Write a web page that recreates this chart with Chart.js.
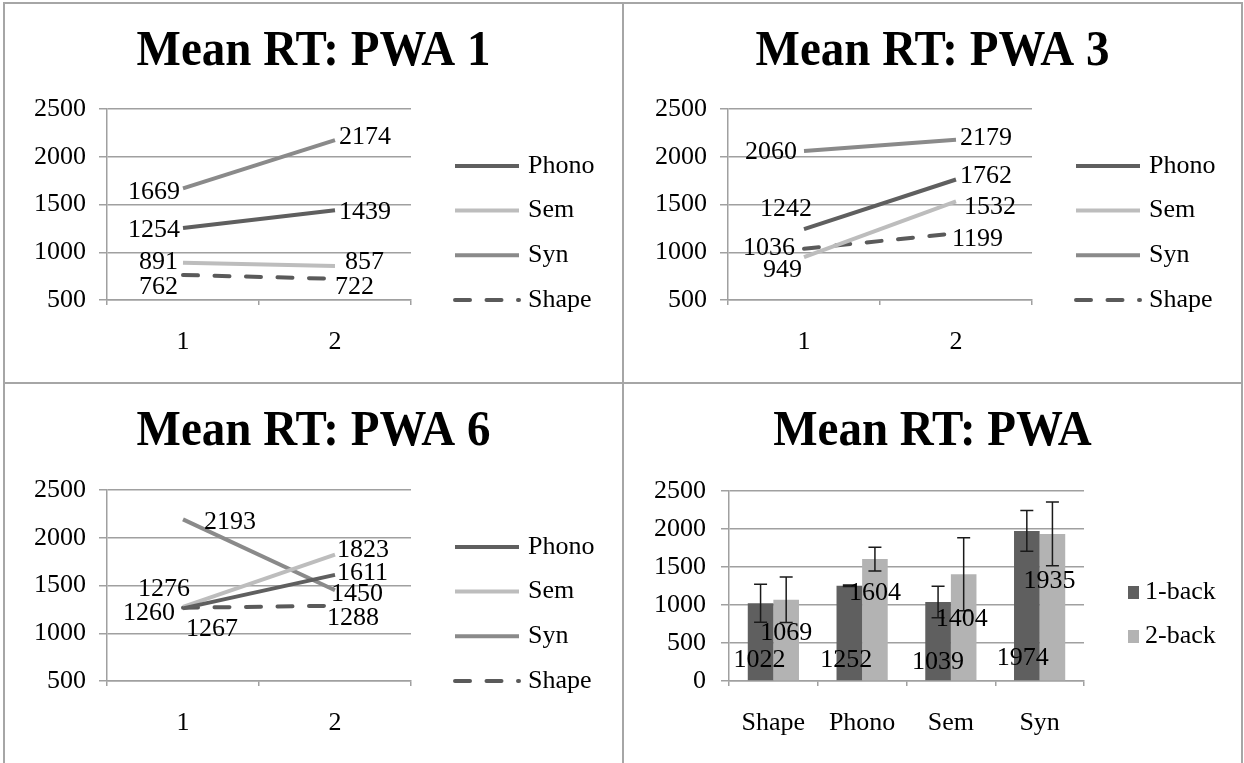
<!DOCTYPE html>
<html>
<head>
<meta charset="utf-8">
<title>Mean RT</title>
<script src="https://cdn.jsdelivr.net/npm/chart.js@4.4.1/dist/chart.umd.min.js"></script>
<style>
  html, body { margin: 0; padding: 0; background: #fff; }
  #page { position: relative; width: 1244px; height: 763px; overflow: hidden; }
  .rule { position: absolute; background: #a6a6a6; }
  .panel { position: absolute; }
</style>
</head>
<body>
<div id="page">
  <div class="rule" style="left:3px;top:2px;width:1240px;height:2px"></div>
  <div class="rule" style="left:3px;top:2px;width:2px;height:761px"></div>
  <div class="rule" style="left:1241px;top:2px;width:2px;height:761px"></div>
  <div class="rule" style="left:622px;top:2px;width:2px;height:761px"></div>
  <div class="rule" style="left:3px;top:382px;width:1240px;height:2px"></div>
  <div class="panel" style="left:5px;top:4px;width:617px;height:378px"><canvas id="pwa1"></canvas></div>
  <div class="panel" style="left:624px;top:4px;width:617px;height:378px"><canvas id="pwa3"></canvas></div>
  <div class="panel" style="left:5px;top:384px;width:617px;height:379px"><canvas id="pwa6"></canvas></div>
  <div class="panel" style="left:624px;top:384px;width:617px;height:379px"><canvas id="pwaAll"></canvas></div>
</div>
<script>
// --- DATA ---
const TRIALS = ['1', '2'];
const CONDITIONS = ['Phono', 'Sem', 'Syn', 'Shape'];
const LINE_TICKS = [500, 1000, 1500, 2000, 2500];
const BAR_TICKS = [0, 500, 1000, 1500, 2000, 2500];

const pwa1Phono = [1254, 1439];
const pwa1Sem = [891, 857];
const pwa1Syn = [1669, 2174];
const pwa1Shape = [762, 722];

const pwa3Phono = [1242, 1762];
const pwa3Sem = [949, 1532];
const pwa3Syn = [2060, 2179];
const pwa3Shape = [1036, 1199];

const pwa6Phono = [1260, 1611];
const pwa6Sem = [1276, 1823];
const pwa6Syn = [2193, 1450];
const pwa6Shape = [1267, 1288];

const BAR_CATEGORIES = ['Shape', 'Phono', 'Sem', 'Syn'];
const BAR_SERIES = ['1-back', '2-back'];
const oneBack = [1022, 1252, 1039, 1974];
const twoBack = [1069, 1604, 1404, 1935];
const oneBackErr = [250, 10, 208, 268];
const twoBackErr = [300, 155, 480, 420];

// --- STYLE ---
const FONT = '"Liberation Serif", "Times New Roman", serif';
const GRID = '#a0a0a0';
const COLORS = {
    Phono: '#5f5f5f',
    Sem: '#bdbdbd',
    Syn: '#8a8a8a',
    Shape: '#5a5a5a',
    oneBack: '#5f5f5f',
    twoBack: '#b3b3b3',
};

// label placement per point: [align, dx, dy] (align r = text ends at point, l = starts at point)
const pwa1Spots = [
    [['r', -3, 2], ['l', 4, 2]],
    [['r', -5, 0], ['l', 10, -4]],
    [['r', -3, 4], ['l', 4, -3]],
    [['r', -5, 12], ['l', 0, 8]],
];
const pwa3Spots = [
    [['r', 8, -20], ['l', 4, -3]],
    [['r', -2, 13], ['l', 8, 6]],
    [['r', -7, 1], ['l', 4, -1]],
    [['r', -9, -1], ['l', -4, 6]],
];
const pwa6Spots = [
    [['r', -8, 5], ['l', 2, -2]],
    [['r', 7, -18], ['l', 2, -4]],
    [['l', 21, 3], ['l', -4, 4]],
    [['l', 3, 21], ['l', -8, 12]],
];
// bars: [align, dx, dy, anchor]
const barSpots = [
    [['c', -1, -20, 'base'], ['c', -3, -20, 'base'], ['c', 0, -18, 'base'], ['c', -4, -22, 'base']],
    [['c', 0, 33, 'top'], ['c', 0, 34, 'top'], ['c', -2, 45, 'top'], ['c', -3, 47, 'top']],
];

Chart.defaults.font.family = FONT;
Chart.defaults.color = '#000';
Chart.defaults.animation = false;

// --- PLUGINS ---
// title centred over the whole panel (the built-in one centres over the padded box)
const panelTitle = {
    id: 'panelTitle',
    afterDraw(chart, args, opts) {
        const ctx = chart.ctx;
        ctx.save();
        ctx.translate(chart.width / 2, opts.y);
        ctx.scale(1, 1.08);
        ctx.font = 'bold 47px ' + FONT;
        ctx.fillStyle = '#000';
        ctx.textAlign = 'center';
        ctx.textBaseline = 'middle';
        ctx.fillText(opts.text, 0, 0);
        ctx.restore();
    }
};

const valueLabels = {
    id: 'valueLabels',
    afterDatasetsDraw(chart, args, opts) {
        if (!opts.spots) return;
        const ctx = chart.ctx;
        ctx.save();
        ctx.font = '26px ' + FONT;
        ctx.fillStyle = '#000';
        ctx.textBaseline = 'middle';
        chart.data.datasets.forEach((ds, i) => {
            chart.getDatasetMeta(i).data.forEach((el, j) => {
                const [align, dx, dy, anchor] = opts.spots[i][j];
                ctx.textAlign = align === 'r' ? 'right' : align === 'l' ? 'left' : 'center';
                const y0 = anchor === 'base' ? el.base : el.y;
                ctx.fillText(String(ds.data[j]), el.x + dx, y0 + dy);
            });
        });
        ctx.restore();
    }
};

const sideLegend = {
    id: 'sideLegend',
    afterDraw(chart, args, opts) {
        if (!opts.display) return;
        const { ctx, chartArea } = chart;
        const sets = chart.data.datasets;
        const x0 = chartArea.right + opts.offsetX;
        ctx.save();
        ctx.font = '26px ' + FONT;
        ctx.fillStyle = '#000';
        ctx.textBaseline = 'middle';
        ctx.textAlign = 'left';
        sets.forEach((ds, k) => {
            const y = chartArea.bottom - opts.bottomGap - (sets.length - 1 - k) * opts.rowGap;
            if (opts.kind === 'line') {
                ctx.save();
                ctx.strokeStyle = ds.borderColor;
                ctx.lineWidth = 4;
                ctx.lineCap = ds.borderDash ? 'round' : 'butt';
                ctx.setLineDash(ds.borderDash || []);
                ctx.beginPath();
                ctx.moveTo(x0 + 2, y);
                ctx.lineTo(x0 + 66, y);
                ctx.stroke();
                ctx.restore();
                ctx.fillText(ds.label, x0 + 75, y);
            } else {
                ctx.fillStyle = ds.backgroundColor;
                ctx.fillRect(x0, y - 6, 11, 13);
                ctx.fillStyle = '#000';
                ctx.fillText(ds.label, x0 + 17, y);
            }
        });
        ctx.restore();
    }
};

const errorBars = {
    id: 'errorBars',
    afterDatasetsDraw(chart, args, opts) {
        if (!opts.errors) return;
        const { ctx } = chart;
        const yScale = chart.scales.y;
        ctx.save();
        ctx.strokeStyle = '#1a1a1a';
        ctx.lineWidth = 1.5;
        opts.errors.forEach((errs, i) => {
            const ds = chart.data.datasets[i];
            chart.getDatasetMeta(i).data.forEach((bar, j) => {
                const hi = yScale.getPixelForValue(ds.data[j] + errs[j]);
                const lo = yScale.getPixelForValue(ds.data[j] - errs[j]);
                const x = bar.x;
                ctx.beginPath();
                ctx.moveTo(x, hi); ctx.lineTo(x, lo);
                ctx.moveTo(x - 6.5, hi); ctx.lineTo(x + 6.5, hi);
                ctx.moveTo(x - 6.5, lo); ctx.lineTo(x + 6.5, lo);
                ctx.stroke();
            });
        });
        ctx.restore();
    }
};

// --- BUILDERS ---
function axisOptions(ticks, box) {
    return {
        x: {
            offset: true,
            grid: { offset: true, drawOnChartArea: false, drawTicks: true, tickLength: 5, color: GRID, lineWidth: 1.5 },
            border: { display: true, color: GRID, width: 1.5 },
            ticks: { font: { size: 26 }, color: '#000', padding: box.xPad, maxRotation: 0 },
            afterFit: s => { s.height = 60; }
        },
        y: {
            min: ticks[0],
            max: ticks[ticks.length - 1],
            afterBuildTicks: s => { s.ticks = ticks.map(v => ({ value: v })); },
            grid: { color: GRID, lineWidth: 1.5, tickLength: 8 },
            border: { display: true, color: GRID, width: 1.5 },
            ticks: { font: { size: 26 }, color: '#000', padding: box.yPad, callback: v => String(v) },
            afterFit: s => { s.width = box.yWidth; }
        }
    };
}

function layoutPadding(box) {
    return { padding: { top: box.top, left: 0, right: box.padRight, bottom: box.padBottom } };
}

function makeLineChart(id, title, series, spots, box) {
    const ctx = document.getElementById(id).getContext('2d');
    const datasets = CONDITIONS.map((name, i) => ({
        label: name,
        data: series[i],
        borderColor: COLORS[name],
        backgroundColor: COLORS[name],
        borderWidth: 4,
        borderDash: name === 'Shape' ? [15, 16.5] : undefined,
        borderCapStyle: name === 'Shape' ? 'round' : 'butt',
        pointRadius: 0,
        tension: 0
    }));
    return new Chart(ctx, {
        type: 'line',
        data: { labels: TRIALS, datasets },
        options: {
            responsive: true,
            maintainAspectRatio: false,
            layout: layoutPadding(box),
            scales: axisOptions(LINE_TICKS, box),
            plugins: {
                title: { display: false },
                legend: { display: false },
                tooltip: { enabled: false },
                panelTitle: { text: title, y: box.titleY },
                valueLabels: { spots },
                sideLegend: { display: true, kind: 'line', offsetX: 42, rowGap: 44.7, bottomGap: 0 }
            }
        },
        plugins: [panelTitle, valueLabels, sideLegend]
    });
}

function makeBarChart(id, title, box) {
    const ctx = document.getElementById(id).getContext('2d');
    return new Chart(ctx, {
        type: 'bar',
        data: {
            labels: BAR_CATEGORIES,
            datasets: [
                { label: BAR_SERIES[0], data: oneBack, backgroundColor: COLORS.oneBack, categoryPercentage: 0.577, barPercentage: 1.0 },
                { label: BAR_SERIES[1], data: twoBack, backgroundColor: COLORS.twoBack, categoryPercentage: 0.577, barPercentage: 1.0 }
            ]
        },
        options: {
            responsive: true,
            maintainAspectRatio: false,
            layout: layoutPadding(box),
            scales: axisOptions(BAR_TICKS, box),
            plugins: {
                title: { display: false },
                legend: { display: false },
                tooltip: { enabled: false },
                panelTitle: { text: title, y: box.titleY },
                errorBars: { errors: [oneBackErr, twoBackErr] },
                valueLabels: { spots: barSpots },
                sideLegend: { display: true, kind: 'bar', offsetX: 44, rowGap: 44, bottomGap: 45 }
            }
        },
        plugins: [panelTitle, errorBars, valueLabels, sideLegend]
    });
}

makeLineChart('pwa1', 'Mean RT: PWA 1', [pwa1Phono, pwa1Sem, pwa1Syn, pwa1Shape], pwa1Spots,
    { yWidth: 102, yPad: 13, xPad: 22, top: 105, padRight: 211, padBottom: 22, titleY: 48 });
makeLineChart('pwa3', 'Mean RT: PWA 3', [pwa3Phono, pwa3Sem, pwa3Syn, pwa3Shape], pwa3Spots,
    { yWidth: 104, yPad: 13, xPad: 22, top: 105, padRight: 209, padBottom: 22, titleY: 48 });
makeLineChart('pwa6', 'Mean RT: PWA 6', [pwa6Phono, pwa6Sem, pwa6Syn, pwa6Shape], pwa6Spots,
    { yWidth: 102, yPad: 13, xPad: 22, top: 106, padRight: 211, padBottom: 22, titleY: 48 });
makeBarChart('pwaAll', 'Mean RT: PWA',
    { yWidth: 105, yPad: 15, xPad: 22, top: 107, padRight: 157, padBottom: 22, titleY: 48 });
</script>
</body>
</html>
